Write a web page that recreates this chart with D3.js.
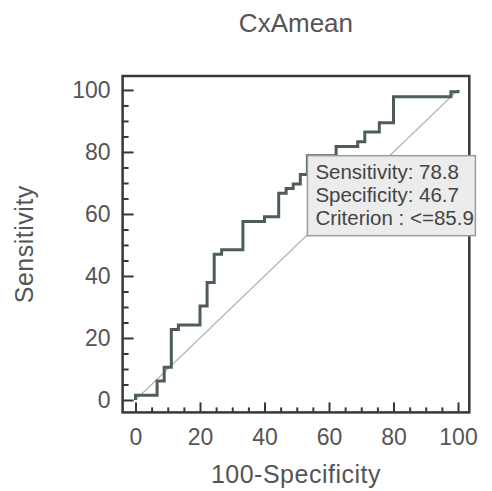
<!DOCTYPE html>
<html>
<head>
<meta charset="utf-8">
<script src="https://cdn.jsdelivr.net/npm/d3@7"></script>
<style>
  body { margin: 0; background: #fff; }
  svg { display: block; font-family: "Liberation Sans", Arial, sans-serif; }
</style>
</head>
<body>
<script>
// ROC operating points
const falsePositive = [0, 0, 6.7, 8.9, 11.1, 13.3, 20, 22.2, 24.4, 26.7, 33.3, 40, 44.4, 46.7, 48.9, 51.1, 53.3, 62.2, 68.9, 71.1, 75.6, 80, 97.8, 100];
const sensitivity = [0, 1.5, 6.1, 10.6, 22.7, 24.2, 30.3, 37.9, 47.0, 48.5, 57.6, 59.1, 66.7, 68.2, 69.7, 72.7, 78.8, 81.8, 83.3, 86.4, 89.4, 97.8, 99.4, 100];

const majorTicks = [0, 20, 40, 60, 80, 100];
const minorTicks = [5, 10, 15, 25, 30, 35, 45, 50, 55, 65, 70, 75, 85, 90, 95];

const criterion = { fpr: 53.3, sens: 78.8 };
const boxLines = ["Sensitivity: 78.8", "Specificity: 46.7", "Criterion : <=85.9"];

const chartTitle = "CxAmean";
const xTitle = "100-Specificity";
const yTitle = "Sensitivity";

const viz = () => {
  const width = 492;
  const height = 491;

  const svg = d3
    .select("body")
    .append("svg")
    .attr("width", width)
    .attr("height", height);

  const x = d3.scaleLinear().domain([-4, 103.5]).range([122.6, 469.3]);
  const y = d3.scaleLinear().domain([-4, 104.5]).range([412.4, 76]);

  const textColor = "#555";
  const frameColor = "#383838";

  // title
  svg
    .append("text")
    .attr("x", (x.range()[0] + x.range()[1]) / 2)
    .attr("y", 31.5)
    .attr("text-anchor", "middle")
    .attr("font-size", 26)
    .attr("fill", textColor)
    .text(chartTitle);

  // chance diagonal
  svg
    .append("line")
    .attr("x1", x(0))
    .attr("y1", y(0))
    .attr("x2", x(100))
    .attr("y2", y(100))
    .attr("stroke", "#b4b4b4")
    .attr("stroke-width", 1.2);

  // ROC curve
  const points = falsePositive.map((d, i) => [d, sensitivity[i]]);
  const line = d3
    .line()
    .x((d) => x(d[0]))
    .y((d) => y(d[1]))
    .curve(d3.curveStepAfter);

  svg
    .append("path")
    .datum(points)
    .attr("d", line)
    .attr("fill", "none")
    .attr("stroke", "#4f5c5c")
    .attr("stroke-width", 3);

  // axes (ticks point inward)
  const xAxis = svg
    .append("g")
    .attr("transform", `translate(0,${y.range()[0]})`)
    .call(d3.axisBottom(x).tickValues(majorTicks).tickSize(-10).tickPadding(16));
  svg
    .append("g")
    .attr("transform", `translate(0,${y.range()[0]})`)
    .call(d3.axisBottom(x).tickValues(minorTicks).tickSize(-5).tickFormat(""));

  const yAxis = svg
    .append("g")
    .attr("transform", `translate(${x.range()[0]},0)`)
    .call(d3.axisLeft(y).tickValues(majorTicks).tickSize(-11).tickPadding(12));
  svg
    .append("g")
    .attr("transform", `translate(${x.range()[0]},0)`)
    .call(d3.axisLeft(y).tickValues(minorTicks).tickSize(-6).tickFormat(""));

  svg.selectAll(".domain").remove();
  svg
    .selectAll(".tick line")
    .attr("stroke", frameColor)
    .attr("stroke-width", 2);
  svg
    .selectAll(".tick text")
    .attr("fill", textColor)
    .attr("font-size", 23)
    .attr("font-family", "Liberation Sans, Arial, sans-serif");

  // frame
  svg
    .append("rect")
    .attr("x", x.range()[0])
    .attr("y", y.range()[1])
    .attr("width", x.range()[1] - x.range()[0])
    .attr("height", y.range()[0] - y.range()[1])
    .attr("fill", "none")
    .attr("stroke", frameColor)
    .attr("stroke-width", 2.5);

  // axis titles
  svg
    .append("text")
    .attr("x", (x.range()[0] + x.range()[1]) / 2)
    .attr("y", 483)
    .attr("text-anchor", "middle")
    .attr("font-size", 25)
    .attr("letter-spacing", 0.5)
    .attr("fill", textColor)
    .text(xTitle);

  svg
    .append("text")
    .attr("transform", `translate(33,${(y.range()[0] + y.range()[1]) / 2}) rotate(-90)`)
    .attr("text-anchor", "middle")
    .attr("font-size", 25)
    .attr("letter-spacing", 0.5)
    .attr("fill", textColor)
    .text(yTitle);

  // criterion box, anchored at the criterion point
  const bx = x(criterion.fpr);
  const by = y(criterion.sens);
  const box = svg.append("g").attr("transform", `translate(${bx},${by})`);

  box
    .append("rect")
    .attr("width", 168)
    .attr("height", 80)
    .attr("fill", "#ececec")
    .attr("stroke", "#9c9c9c")
    .attr("stroke-width", 1.5);

  box
    .selectAll("text")
    .data(boxLines)
    .enter()
    .append("text")
    .attr("x", 8)
    .attr("y", (d, i) => 23 + i * 23)
    .attr("font-size", 20.5)
    .attr("fill", "#444")
    .text((d) => d);
};

viz();
</script>
</body>
</html>
